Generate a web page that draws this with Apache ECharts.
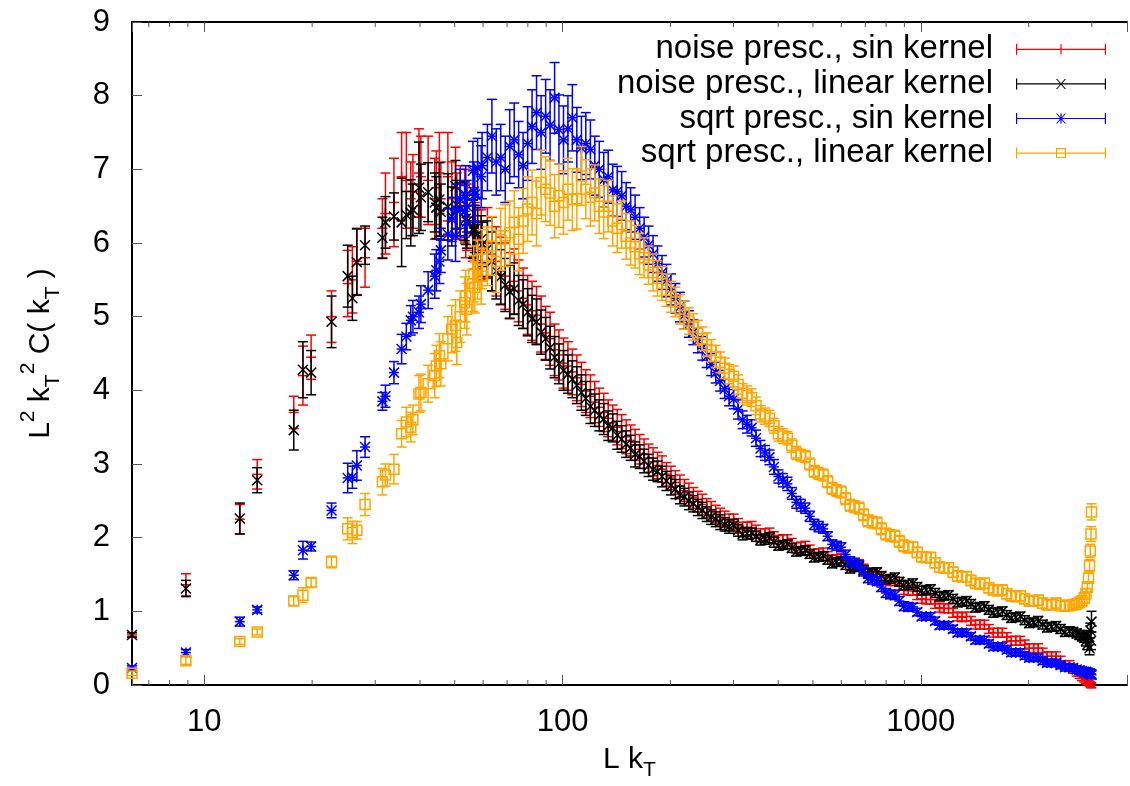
<!DOCTYPE html>
<html>
<head>
<meta charset="utf-8">
<script src="https://cdn.jsdelivr.net/npm/echarts@6.0.0/dist/echarts.min.js"></script>
<style>
html, body { margin: 0; padding: 0; background: #fff; overflow: hidden; }
#main { width: 1130px; height: 786px; }
</style>
</head>
<body>
<div id="main"></div>
<script>
var FONT = '"Liberation Sans", Arial, Helvetica, sans-serif';

// L k_T values (shared by all four runs)
var kT = [
    6.283, 8.886, 12.566, 14.050, 17.772, 18.850, 19.869, 22.654, 25.133, 25.907,
    26.657, 28.099, 31.416, 32.037, 33.836, 35.543, 36.636, 37.699, 38.219, 39.738,
    40.232, 42.149, 43.982, 44.429, 45.310, 45.743, 47.851, 49.073, 50.265, 50.658,
    51.812, 53.314, 53.682, 54.048, 56.199, 56.549, 56.897, 57.928, 59.275, 59.605,
    // mid
    61.7, 63.5, 65.3, 67.2, 69.2, 71.2, 73.3, 75.4, 77.6, 79.9,
    82.2, 84.6, 87.1, 89.7, 92.3, 95.0, 97.7, 100.6, 103.5, 106.5,
    109.6, 112.9, 116.1, 119.6, 123.0, 126.6, 130.3, 134.1, 138.0, 142.1,
    146.2, 150.5, 154.9, 159.4, 164.1, 168.9, 173.8, 178.9, 184.1, 189.5,
    195.0, 200.7, 206.5, 212.6, 218.8, 225.2, 231.7, 238.5, 245.5, 252.6,
    260.0, 267.6, 275.4, 283.5, 291.7,
    // high
    300.3, 309.0, 318.1, 327.3, 337.0, 346.7, 356.9, 367.3, 378.1, 389.0,
    400.5, 412.1, 424.2, 436.5, 449.3, 462.4, 475.9, 489.8, 504.2, 518.8,
    534.1, 549.5, 565.6, 582.1, 599.2, 616.6, 634.7, 653.1, 672.3, 691.8,
    712.1, 732.8, 754.3, 776.2, 799.0, 822.2, 846.3, 871.0, 896.6, 922.6,
    949.7, 977.2, 1006, 1035, 1065, 1096, 1128, 1161, 1195, 1230,
    1266, 1303, 1341, 1380, 1421, 1462, 1505, 1549, 1594, 1641,
    1689, 1738, 1789, 1841, 1895, 1950, 2007, 2065, 2126, 2188,
    2252, 2317, 2385, 2455, 2527, 2600,
    2661, 2723, 2773, 2818, 2858, 2891, 2917, 2938, 2958, 2972, 2985, 2995
];

// noise presc., sin kernel
var noiseSin = [
    0.68, 1.36, 2.25, 2.86, 3.70, 4.20, 4.45, 5.00, 5.45, 5.50,
    5.75, 5.80, 6.20, 6.40, 6.55, 6.90, 6.85, 6.60, 6.70, 6.95,
    6.90, 6.85, 6.60, 6.75, 6.95, 6.60, 6.90, 6.60, 6.75, 6.50,
    6.55, 6.50, 6.30, 6.35, 6.25, 6.20, 6.10, 6.05, 6.00, 5.90,
    6.00, 5.85, 5.75, 5.62, 5.55, 5.42, 5.48, 5.35, 5.25, 5.16,
    5.08, 5.02, 4.90, 4.78, 4.70, 4.55, 4.48, 4.37, 4.33, 4.25,
    4.17, 4.08, 3.99, 3.92, 3.84, 3.77, 3.70, 3.62, 3.56, 3.50,
    3.44, 3.37, 3.32, 3.26, 3.20, 3.14, 3.08, 3.03, 2.98, 2.93,
    2.86, 2.81, 2.75, 2.70, 2.64, 2.59, 2.54, 2.49, 2.45, 2.40,
    2.36, 2.32, 2.28, 2.25, 2.21,
    2.22, 2.16, 2.11, 2.12, 2.13, 2.08, 2.03, 2.04, 2.05, 2.00,
    1.95, 1.96, 1.97, 1.92, 1.86, 1.87, 1.88, 1.83, 1.78, 1.79,
    1.80, 1.75, 1.70, 1.71, 1.72, 1.67, 1.62, 1.63, 1.64, 1.58,
    1.53, 1.53, 1.53, 1.47, 1.42, 1.41, 1.41, 1.35, 1.29, 1.28,
    1.28, 1.22, 1.17, 1.16, 1.16, 1.10, 1.05, 1.04, 1.04, 0.98,
    0.93, 0.92, 0.93, 0.87, 0.82, 0.82, 0.82, 0.76, 0.71, 0.71,
    0.71, 0.65, 0.60, 0.60, 0.60, 0.55, 0.50, 0.50, 0.50, 0.44,
    0.39, 0.39, 0.39, 0.33, 0.27, 0.27,
    0.22, 0.18, 0.15, 0.12, 0.10, 0.08, 0.07, 0.06, 0.05, 0.04, 0.03, 0.02
];
var noiseSinErr = [
    0.03, 0.15, 0.20, 0.20, 0.22, 0.40, 0.30, 0.35, 0.45, 0.45,
    0.45, 0.40, 0.40, 0.55, 0.60, 0.60, 0.65, 0.50, 0.50, 0.60,
    0.55, 0.60, 0.55, 0.50, 0.55, 0.50, 0.60, 0.50, 0.55, 0.45,
    0.50, 0.50, 0.50, 0.45, 0.50, 0.45, 0.45, 0.40, 0.45, 0.40,
    0.48, 0.50, 0.47, 0.46, 0.45, 0.45, 0.44, 0.42, 0.41, 0.40,
    0.40, 0.39, 0.38, 0.36, 0.36, 0.35, 0.34, 0.34, 0.33, 0.31,
    0.31, 0.30, 0.29, 0.29, 0.28, 0.26, 0.26, 0.25, 0.24, 0.24,
    0.23, 0.23, 0.21, 0.21, 0.20, 0.20, 0.19, 0.19, 0.18, 0.18,
    0.16, 0.16, 0.16, 0.15, 0.15, 0.15, 0.14, 0.14, 0.14, 0.13,
    0.13, 0.12, 0.12, 0.11, 0.11,
    0.10, 0.10, 0.10, 0.09, 0.09, 0.09, 0.09, 0.08, 0.08, 0.08,
    0.08, 0.08, 0.07, 0.07, 0.07, 0.07, 0.07, 0.07, 0.06, 0.06,
    0.06, 0.06, 0.06, 0.06, 0.06, 0.06, 0.06, 0.06, 0.06, 0.06,
    0.06, 0.06, 0.06, 0.06, 0.06, 0.06, 0.06, 0.06, 0.06, 0.06,
    0.06, 0.06, 0.06, 0.06, 0.06, 0.06, 0.06, 0.06, 0.06, 0.06,
    0.06, 0.06, 0.06, 0.06, 0.06, 0.06, 0.06, 0.06, 0.06, 0.06,
    0.06, 0.06, 0.06, 0.06, 0.06, 0.06, 0.06, 0.06, 0.06, 0.06,
    0.06, 0.06, 0.06, 0.06, 0.06, 0.06,
    0.06, 0.06, 0.06, 0.06, 0.06, 0.06, 0.06, 0.06, 0.06, 0.06, 0.06, 0.06
];

// noise presc., linear kernel
var noiseLin = [
    0.68, 1.31, 2.26, 2.78, 3.46, 4.28, 4.24, 4.93, 5.55, 5.25,
    5.74, 5.97, 6.07, 6.28, 6.36, 6.28, 6.38, 6.41, 6.45, 6.75,
    6.62, 6.69, 6.55, 6.48, 6.59, 6.42, 6.49, 6.36, 6.77, 6.52,
    6.46, 6.43, 6.33, 6.29, 6.19, 6.16, 6.19, 6.12, 6.05, 5.98,
    5.92, 5.75, 5.62, 5.54, 5.43, 5.34, 5.38, 5.22, 5.17, 5.06,
    4.97, 4.93, 4.79, 4.70, 4.58, 4.45, 4.36, 4.27, 4.22, 4.15,
    4.07, 3.97, 3.89, 3.78, 3.73, 3.66, 3.61, 3.52, 3.49, 3.39,
    3.34, 3.27, 3.22, 3.13, 3.10, 3.04, 2.98, 2.93, 2.90, 2.83,
    2.77, 2.71, 2.66, 2.58, 2.55, 2.50, 2.46, 2.41, 2.37, 2.32,
    2.28, 2.25, 2.21, 2.18, 2.15,
    2.17, 2.10, 2.05, 2.06, 2.06, 2.02, 1.97, 1.98, 2.00, 1.94,
    1.89, 1.90, 1.91, 1.86, 1.81, 1.82, 1.83, 1.78, 1.73, 1.74,
    1.75, 1.70, 1.65, 1.67, 1.68, 1.63, 1.58, 1.60, 1.61, 1.56,
    1.51, 1.52, 1.53, 1.48, 1.43, 1.44, 1.46, 1.40, 1.35, 1.36,
    1.38, 1.33, 1.28, 1.29, 1.30, 1.25, 1.20, 1.21, 1.22, 1.17,
    1.12, 1.13, 1.14, 1.10, 1.05, 1.06, 1.07, 1.02, 0.98, 0.99,
    1.00, 0.95, 0.91, 0.92, 0.93, 0.88, 0.84, 0.85, 0.87, 0.82,
    0.78, 0.79, 0.80, 0.76, 0.72, 0.73,
    0.72, 0.70, 0.68, 0.66, 0.64, 0.60, 0.55, 0.66, 0.50, 0.74, 0.60, 0.86
];
var noiseLinErr = [
    0.03, 0.11, 0.21, 0.17, 0.27, 0.38, 0.30, 0.35, 0.42, 0.30,
    0.45, 0.26, 0.28, 0.35, 0.32, 0.60, 0.32, 0.45, 0.35, 0.62,
    0.45, 0.40, 0.40, 0.42, 0.50, 0.38, 0.45, 0.40, 0.35, 0.33,
    0.36, 0.40, 0.35, 0.36, 0.40, 0.35, 0.32, 0.36, 0.32, 0.30,
    0.38, 0.40, 0.38, 0.37, 0.36, 0.36, 0.35, 0.34, 0.33, 0.32,
    0.32, 0.31, 0.30, 0.29, 0.29, 0.28, 0.27, 0.27, 0.26, 0.25,
    0.25, 0.24, 0.23, 0.23, 0.22, 0.21, 0.21, 0.20, 0.19, 0.19,
    0.18, 0.18, 0.17, 0.17, 0.16, 0.16, 0.15, 0.15, 0.14, 0.14,
    0.13, 0.13, 0.13, 0.12, 0.12, 0.12, 0.11, 0.11, 0.11, 0.10,
    0.10, 0.10, 0.10, 0.09, 0.09,
    0.08, 0.08, 0.08, 0.08, 0.07, 0.07, 0.07, 0.07, 0.07, 0.07,
    0.06, 0.06, 0.06, 0.06, 0.06, 0.06, 0.06, 0.06, 0.06, 0.06,
    0.06, 0.06, 0.06, 0.06, 0.06, 0.06, 0.06, 0.06, 0.06, 0.06,
    0.06, 0.06, 0.06, 0.06, 0.06, 0.06, 0.06, 0.06, 0.06, 0.06,
    0.06, 0.06, 0.06, 0.06, 0.06, 0.06, 0.06, 0.06, 0.06, 0.06,
    0.06, 0.06, 0.06, 0.06, 0.06, 0.06, 0.06, 0.06, 0.06, 0.06,
    0.06, 0.06, 0.06, 0.06, 0.06, 0.06, 0.06, 0.06, 0.06, 0.06,
    0.06, 0.06, 0.06, 0.06, 0.06, 0.06,
    0.06, 0.06, 0.06, 0.06, 0.06, 0.07, 0.07, 0.08, 0.09, 0.10, 0.12, 0.14
];

// sqrt presc., sin kernel
var sqrtSin = [
    0.23, 0.44, 0.86, 1.02, 1.49, 1.83, 1.88, 2.37, 2.81, 2.82,
    2.98, 3.23, 3.85, 3.92, 4.24, 4.56, 4.73, 4.95, 5.00, 5.06,
    5.17, 5.36, 5.55, 5.63, 5.75, 5.90, 6.12, 6.32, 6.10, 6.45,
    6.60, 6.43, 6.65, 6.50, 6.98, 6.70, 6.66, 7.02, 6.90, 7.05,
    7.16, 7.45, 7.10, 7.16, 7.00, 7.31, 7.40, 7.20, 7.05, 7.35,
    7.58, 7.77, 7.50, 7.72, 7.60, 7.97, 7.54, 7.40, 7.55, 7.70,
    7.40, 7.29, 7.35, 7.27, 7.05, 7.00, 6.86, 6.90, 6.72, 6.70,
    6.64, 6.50, 6.45, 6.35, 6.20, 6.08, 5.97, 5.85, 5.72, 5.60,
    5.49, 5.37, 5.25, 5.13, 5.02, 4.90, 4.79, 4.68, 4.57, 4.46,
    4.35, 4.24, 4.13, 4.02, 3.92,
    3.88, 3.74, 3.60, 3.54, 3.49, 3.35, 3.21, 3.15, 3.09, 2.96,
    2.83, 2.78, 2.73, 2.60, 2.48, 2.44, 2.40, 2.29, 2.18, 2.15,
    2.12, 2.02, 1.91, 1.89, 1.87, 1.77, 1.68, 1.66, 1.63, 1.54,
    1.45, 1.43, 1.41, 1.33, 1.25, 1.23, 1.22, 1.14, 1.07, 1.06,
    1.06, 0.99, 0.93, 0.93, 0.93, 0.87, 0.81, 0.81, 0.81, 0.76,
    0.71, 0.71, 0.71, 0.66, 0.61, 0.61, 0.61, 0.56, 0.52, 0.52,
    0.52, 0.48, 0.44, 0.44, 0.44, 0.40, 0.37, 0.37, 0.37, 0.33,
    0.30, 0.30, 0.30, 0.27, 0.24, 0.24,
    0.23, 0.21, 0.20, 0.19, 0.18, 0.18, 0.17, 0.16, 0.16, 0.15, 0.15, 0.14
];
var sqrtSinErr = [
    0.03, 0.04, 0.06, 0.04, 0.06, 0.12, 0.06, 0.10, 0.20, 0.15,
    0.20, 0.14, 0.12, 0.15, 0.15, 0.20, 0.18, 0.20, 0.22, 0.22,
    0.25, 0.25, 0.30, 0.28, 0.30, 0.30, 0.35, 0.30, 0.35, 0.35,
    0.40, 0.35, 0.40, 0.35, 0.40, 0.40, 0.38, 0.40, 0.42, 0.45,
    0.45, 0.50, 0.45, 0.45, 0.45, 0.50, 0.50, 0.45, 0.45, 0.50,
    0.50, 0.50, 0.50, 0.50, 0.48, 0.48, 0.47, 0.46, 0.45, 0.45,
    0.44, 0.43, 0.42, 0.40, 0.40, 0.38, 0.37, 0.36, 0.35, 0.34,
    0.33, 0.32, 0.30, 0.30, 0.28, 0.27, 0.26, 0.25, 0.24, 0.23,
    0.22, 0.21, 0.20, 0.20, 0.19, 0.18, 0.17, 0.17, 0.16, 0.15,
    0.15, 0.14, 0.14, 0.13, 0.13,
    0.13, 0.13, 0.12, 0.12, 0.11, 0.11, 0.11, 0.10, 0.10, 0.10,
    0.09, 0.09, 0.09, 0.08, 0.08, 0.08, 0.07, 0.07, 0.07, 0.07,
    0.06, 0.06, 0.06, 0.06, 0.06, 0.06, 0.06, 0.06, 0.06, 0.06,
    0.06, 0.06, 0.06, 0.06, 0.06, 0.06, 0.06, 0.06, 0.06, 0.06,
    0.05, 0.05, 0.05, 0.05, 0.05, 0.05, 0.05, 0.05, 0.05, 0.05,
    0.05, 0.05, 0.05, 0.05, 0.05, 0.05, 0.05, 0.05, 0.05, 0.05,
    0.05, 0.05, 0.05, 0.05, 0.05, 0.05, 0.05, 0.05, 0.05, 0.05,
    0.05, 0.05, 0.05, 0.05, 0.05, 0.05,
    0.05, 0.05, 0.05, 0.05, 0.05, 0.05, 0.05, 0.05, 0.05, 0.05, 0.05, 0.05
];

// sqrt presc., linear kernel
var sqrtLin = [
    0.16, 0.33, 0.59, 0.72, 1.14, 1.22, 1.39, 1.67, 2.12, 2.07,
    2.10, 2.45, 2.76, 2.85, 2.93, 3.41, 3.57, 3.50, 3.60, 3.95,
    3.97, 4.09, 4.20, 4.33, 4.47, 4.36, 4.70, 4.83, 4.88, 4.65,
    5.00, 5.19, 5.28, 5.10, 5.45, 5.58, 5.40, 5.64, 5.55, 5.78,
    5.82, 5.96, 5.75, 6.05, 6.10, 6.14, 6.28, 6.05, 6.30, 6.46,
    6.55, 6.40, 6.82, 6.73, 6.68, 6.50, 6.64, 6.55, 6.73, 6.59,
    6.60, 6.91, 6.73, 6.62, 6.68, 6.50, 6.42, 6.50, 6.30, 6.20,
    6.25, 6.09, 6.00, 5.95, 5.85, 5.80, 5.70, 5.60, 5.52, 5.45,
    5.36, 5.27, 5.20, 5.10, 5.02, 4.94, 4.86, 4.78, 4.70, 4.62,
    4.54, 4.46, 4.38, 4.30, 4.22,
    4.19, 4.08, 3.96, 3.93, 3.90, 3.79, 3.68, 3.65, 3.62, 3.52,
    3.41, 3.38, 3.35, 3.25, 3.15, 3.12, 3.10, 3.00, 2.90, 2.87,
    2.85, 2.76, 2.67, 2.64, 2.62, 2.53, 2.44, 2.42, 2.40, 2.31,
    2.23, 2.21, 2.20, 2.12, 2.05, 2.03, 2.02, 1.95, 1.89, 1.87,
    1.87, 1.80, 1.74, 1.73, 1.73, 1.66, 1.60, 1.59, 1.59, 1.53,
    1.48, 1.47, 1.47, 1.42, 1.38, 1.37, 1.38, 1.32, 1.29, 1.28,
    1.29, 1.24, 1.21, 1.20, 1.21, 1.17, 1.14, 1.14, 1.15, 1.11,
    1.09, 1.09, 1.11, 1.08, 1.07, 1.08,
    1.09, 1.10, 1.12, 1.14, 1.18, 1.24, 1.33, 1.45, 1.62, 1.82, 2.05, 2.35
];
var sqrtLinErr = [
    0.03, 0.05, 0.04, 0.04, 0.06, 0.10, 0.06, 0.08, 0.15, 0.15,
    0.12, 0.15, 0.18, 0.15, 0.20, 0.18, 0.20, 0.20, 0.20, 0.25,
    0.25, 0.25, 0.30, 0.28, 0.30, 0.30, 0.30, 0.32, 0.35, 0.30,
    0.35, 0.35, 0.35, 0.35, 0.38, 0.38, 0.35, 0.40, 0.38, 0.40,
    0.40, 0.40, 0.42, 0.42, 0.42, 0.43, 0.43, 0.43, 0.44, 0.44,
    0.44, 0.44, 0.44, 0.44, 0.44, 0.43, 0.43, 0.43, 0.42, 0.42,
    0.41, 0.40, 0.40, 0.39, 0.38, 0.37, 0.36, 0.35, 0.34, 0.33,
    0.32, 0.31, 0.30, 0.29, 0.28, 0.27, 0.26, 0.25, 0.24, 0.23,
    0.22, 0.21, 0.20, 0.20, 0.19, 0.18, 0.18, 0.17, 0.16, 0.16,
    0.15, 0.15, 0.14, 0.14, 0.13,
    0.14, 0.13, 0.13, 0.13, 0.12, 0.12, 0.11, 0.11, 0.11, 0.10,
    0.10, 0.10, 0.09, 0.09, 0.09, 0.08, 0.08, 0.08, 0.08, 0.08,
    0.08, 0.08, 0.08, 0.08, 0.08, 0.08, 0.08, 0.08, 0.08, 0.08,
    0.08, 0.08, 0.08, 0.08, 0.08, 0.08, 0.08, 0.08, 0.08, 0.08,
    0.07, 0.07, 0.07, 0.07, 0.07, 0.07, 0.07, 0.07, 0.07, 0.07,
    0.07, 0.07, 0.07, 0.07, 0.07, 0.07, 0.07, 0.07, 0.07, 0.07,
    0.07, 0.07, 0.07, 0.07, 0.07, 0.07, 0.07, 0.07, 0.07, 0.07,
    0.07, 0.07, 0.07, 0.07, 0.07, 0.07,
    0.07, 0.07, 0.07, 0.07, 0.07, 0.07, 0.07, 0.07, 0.08, 0.09, 0.10, 0.11
];

// minor ticks of the log axis
var minorTicks = [7, 8, 9, 20, 30, 40, 50, 60, 70, 80, 90,
    200, 300, 400, 500, 600, 700, 800, 900, 2000, 3000];

var names = [
    'noise presc., sin kernel',
    'noise presc., linear kernel',
    'sqrt presc., sin kernel',
    'sqrt presc., linear kernel'
];
var colors = ['#ff0000', '#000000', '#0000ff', '#ffa500'];

function seg(x1, y1, x2, y2, c) {
    return { type: 'line', shape: { x1: x1, y1: y1, x2: x2, y2: y2 },
        style: { stroke: c, lineWidth: 1.5 } };
}

var markers = {
    plus: function (p, c) {
        return [seg(p[0] - 5, p[1], p[0] + 5, p[1], c), seg(p[0], p[1] - 5, p[0], p[1] + 5, c)];
    },
    cross: function (p, c) {
        return [seg(p[0] - 5, p[1] - 5, p[0] + 5, p[1] + 5, c), seg(p[0] - 5, p[1] + 5, p[0] + 5, p[1] - 5, c)];
    },
    star: function (p, c) {
        return markers.plus(p, c).concat(markers.cross(p, c));
    },
    box: function (p, c) {
        return [{ type: 'rect', shape: { x: p[0] - 5, y: p[1] - 5, width: 10, height: 10 },
            style: { fill: 'none', stroke: c, lineWidth: 1.5 } }];
    }
};

function errSeries(name, vals, errs, color, marker) {
    return {
        name: name,
        type: 'custom',
        coordinateSystem: 'cartesian2d',
        itemStyle: { color: color },
        encode: { x: 0, y: 1 },
        data: kT.map(function (x, i) { return [x, vals[i], errs[i]]; }),
        renderItem: function (params, api) {
            var x = api.value(0), y = api.value(1), e = api.value(2);
            var p = api.coord([x, y]);
            var hi = api.coord([x, y + e]);
            var lo = api.coord([x, y - e]);
            var kids = [
                seg(p[0], hi[1], p[0], lo[1], color),
                seg(p[0] - 5, hi[1], p[0] + 5, hi[1], color),
                seg(p[0] - 5, lo[1], p[0] + 5, lo[1], color)
            ].concat(markers[marker](p, color));
            return { type: 'group', children: kids };
        }
    };
}

// legend icons: error bar sample with the point symbol in the middle
var base = 'M0,4.9H90V6.1H0Z M0,0H1.2V11H0Z M88.8,0H90V11H88.8Z ';
var iconPlus = 'M44.4,0.5H45.6V10.5H44.4Z';
var iconCross = 'M40,0.5L41.2,0.5L50,10.5L48.8,10.5Z M48.8,0.5L50,0.5L41.2,10.5L40,10.5Z';
var iconBox = 'M40,0.5H50V10.5H40Z M41.2,1.7V9.3H48.8V1.7Z';
var icons = [
    'path://' + base + iconPlus,
    'path://' + base + iconCross,
    'path://' + base + iconPlus + ' ' + iconCross,
    'path://' + base + iconBox
];

var myChart = echarts.init(document.getElementById('main'));

var option = {
    animation: false,
    backgroundColor: '#fff',
    textStyle: { fontFamily: FONT },
    // the right edge of the frame lies just outside the picture
    grid: { left: 132, right: -6, top: 22, bottom: 99 },
    legend: {
        orient: 'vertical',
        right: 24,
        top: 32,
        padding: 0,
        align: 'right',
        itemWidth: 90,
        itemHeight: 11,
        itemGap: 0,
        selectedMode: false,
        textStyle: { fontSize: 33, lineHeight: 34.6, color: '#000', fontFamily: FONT, padding: [0, 18, 0, 0] },
        data: names.map(function (n, i) {
            return { name: n, icon: icons[i], itemStyle: { color: colors[i] } };
        })
    },
    xAxis: [{
        type: 'log',
        logBase: 10,
        min: 6.2832,
        max: 3763,
        position: 'bottom',
        axisLine: { lineStyle: { color: '#000', width: 2 } },
        axisTick: { inside: true, length: 10, lineStyle: { color: '#555' } },
        axisLabel: {
            fontSize: 31, color: '#000', margin: 22, fontFamily: FONT,
            formatter: function (v) {
                var l = Math.log10(v);
                return Math.abs(l - Math.round(l)) < 1e-6 ? String(Math.round(v)) : '';
            }
        },
        splitLine: { show: false },
        name: '{a|L k}{b|T}',
        nameLocation: 'middle',
        nameGap: 54,
        nameTextStyle: {
            color: '#000', fontFamily: FONT, fontSize: 30,
            rich: {
                a: { fontSize: 30, lineHeight: 42, color: '#000', fontFamily: FONT },
                b: { fontSize: 21, lineHeight: 21, verticalAlign: 'bottom', color: '#000', fontFamily: FONT }
            }
        }
    }, {
        type: 'log',
        logBase: 10,
        min: 6.2832,
        max: 3763,
        position: 'top',
        axisLine: { lineStyle: { color: '#000', width: 2 } },
        axisTick: { inside: true, length: 10, lineStyle: { color: '#555' } },
        axisLabel: { show: false },
        splitLine: { show: false }
    }],
    yAxis: [{
        type: 'value',
        min: 0,
        max: 9,
        interval: 1,
        position: 'left',
        axisLine: { show: true, lineStyle: { color: '#000', width: 2 } },
        axisTick: { show: true, inside: true, length: 10, lineStyle: { color: '#555' } },
        axisLabel: { fontSize: 31, color: '#000', margin: 22, fontFamily: FONT },
        splitLine: { show: false },
        name: '{a|L}{p|2}{a| k}{b|T}{p|2}{a| C( k}{b|T}{a| )}',
        nameLocation: 'middle',
        nameGap: 68,
        nameTextStyle: {
            color: '#000', fontFamily: FONT, fontSize: 30,
            rich: {
                a: { fontSize: 30, lineHeight: 46, color: '#000', fontFamily: FONT },
                p: { fontSize: 21, lineHeight: 21, verticalAlign: 'top', color: '#000', fontFamily: FONT },
                b: { fontSize: 21, lineHeight: 21, verticalAlign: 'bottom', color: '#000', fontFamily: FONT }
            }
        }
    }],
    series: [
        errSeries(names[0], noiseSin, noiseSinErr, colors[0], 'plus'),
        errSeries(names[1], noiseLin, noiseLinErr, colors[1], 'cross'),
        errSeries(names[2], sqrtSin, sqrtSinErr, colors[2], 'star'),
        errSeries(names[3], sqrtLin, sqrtLinErr, colors[3], 'box'),
        {
            name: 'minor ticks',
            type: 'custom',
            silent: true,
            coordinateSystem: 'cartesian2d',
            data: minorTicks.map(function (v) { return [v, 0]; }),
            encode: { x: 0, y: 1 },
            renderItem: function (params, api) {
                var b = api.coord([api.value(0), 0]);
                var t = api.coord([api.value(0), 9]);
                return {
                    type: 'group',
                    children: [
                        { type: 'line', shape: { x1: b[0], y1: b[1], x2: b[0], y2: b[1] - 5 }, style: { stroke: '#555', lineWidth: 1 } },
                        { type: 'line', shape: { x1: t[0], y1: t[1], x2: t[0], y2: t[1] + 5 }, style: { stroke: '#555', lineWidth: 1 } }
                    ]
                };
            }
        }
    ]
};

myChart.setOption(option);
</script>
</body>
</html>
